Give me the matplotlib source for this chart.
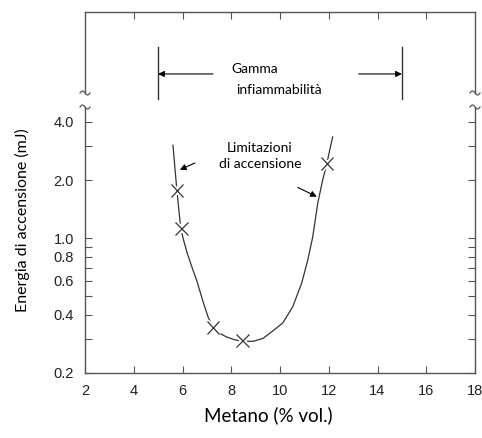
import numpy as np
import matplotlib
matplotlib.use('Agg')
import matplotlib.pyplot as plt
import matplotlib.patheffects as pe

# curve (methane %vol, ignition energy mJ)
curve_x = [5.61, 5.69, 5.77, 5.85, 5.93, 6.05, 6.2, 6.4, 6.59, 6.84, 7.05, 7.25,
           7.5, 7.82, 8.15, 8.48, 8.9, 9.3, 9.7, 10.11, 10.52, 10.89, 11.14,
           11.34, 11.55, 11.75, 11.92, 12.04, 12.16]
curve_y = [3.03, 2.3, 1.77, 1.4, 1.12, 0.97, 0.83, 0.7, 0.6, 0.47, 0.39, 0.346,
           0.322, 0.307, 0.297, 0.292, 0.292, 0.302, 0.33, 0.363, 0.44, 0.585,
           0.77, 1.01, 1.52, 2.0, 2.42, 2.86, 3.34]

# measured points (crosses)
pts_x = [5.77, 5.95, 7.25, 8.47, 11.93]
pts_y = [1.77, 1.12, 0.345, 0.295, 2.44]

xticks = [2, 4, 6, 8, 10, 12, 14, 16, 18]
ytick_vals = [0.2, 0.3, 0.4, 0.5, 0.6, 0.7, 0.8, 0.9, 1.0, 2.0, 3.0, 4.0]
ytick_labels = ['0.2', '', '0.4', '', '0.6', '', '0.8', '', '1.0', '2.0', '', '4.0']

flam_low = 5
flam_high = 15

spine_col = '#555555'
line_col = '#333333'
txt_font = ['Lato', 'DejaVu Sans']
tick_font = ['Liberation Sans', 'DejaVu Sans']

W, H = 482, 438
fig = plt.figure(figsize=(W / 100., H / 100.), dpi=100)

# pixel layout
x0, x1 = 85, 475
lo_bot, lo_top = 373, 107
up_bot, up_top = 93, 12

ax = fig.add_axes([x0 / W, 1 - lo_bot / H, (x1 - x0) / W, (lo_bot - lo_top) / H])
ax_up = fig.add_axes([x0 / W, 1 - up_bot / H, (x1 - x0) / W, (up_bot - up_top) / H])

# lower panel
ax.plot(curve_x, curve_y, color=line_col, lw=0.9)
ax.plot(pts_x, pts_y, linestyle='none', marker='x', markersize=9, mew=0.9,
        color=line_col,
        path_effects=[pe.withStroke(linewidth=3.5, foreground='white')])
ax.set_yscale('log')
ax.set_xlim(2, 18)
ax.set_ylim(0.2, 4.78)
ax.set_xticks(xticks)
ax.set_xticklabels([str(v) for v in xticks], fontfamily=tick_font, fontsize=10.5)
ax.set_yticks(ytick_vals)
ax.set_yticklabels(ytick_labels, fontfamily=tick_font, fontsize=10.5)
ax.minorticks_off()
ax.tick_params(direction='in', length=5, width=0.8, color=spine_col,
               right=True, labelcolor='#222222')
ax.tick_params(axis='x', pad=8)
ax.tick_params(axis='y', pad=8)
ax.spines['top'].set_visible(False)
for s in ['left', 'right', 'bottom']:
    ax.spines[s].set_color(spine_col)
    ax.spines[s].set_linewidth(1.0)
ax.set_xlabel('Metano (% vol.)', fontfamily=txt_font, fontsize=13.5)
ax.set_ylabel('Energia di accensione (mJ)', fontfamily=txt_font, fontsize=11.5)
ax.xaxis.set_label_coords(0.469, -0.125)
ax.yaxis.set_label_coords(-0.14, 0.575)

ax.text(9.17, 2.66, 'Limitazioni\ndi accensione', ha='center', va='center',
        fontfamily=txt_font, fontsize=10, linespacing=1.35)
arr = dict(arrowstyle='-|>', color='black', lw=0.8, mutation_scale=9,
           shrinkA=0, shrinkB=0)
ax.annotate('', xy=(5.89, 2.26), xytext=(6.51, 2.45), arrowprops=arr)
ax.annotate('', xy=(11.51, 1.64), xytext=(10.73, 1.83), arrowprops=arr)

# upper panel
ax_up.set_xlim(2, 18)
ax_up.set_ylim(0, 1)
ax_up.set_xticks(xticks[1:-1])
ax_up.set_yticks([])
ax_up.tick_params(axis='x', direction='in', length=5, width=0.8, color=spine_col,
                  bottom=False, top=True, labelbottom=False, labeltop=False)
ax_up.spines['bottom'].set_visible(False)
for s in ['left', 'right', 'top']:
    ax_up.spines[s].set_color(spine_col)
    ax_up.spines[s].set_linewidth(1.0)
ax_up.patch.set_alpha(0)

for xv in [flam_low, flam_high]:
    ax_up.plot([xv, xv], [-0.074, 0.568], color=line_col, lw=1.0, clip_on=False)
ax_up.annotate('', xy=(flam_low, 0.235), xytext=(7.25, 0.235), arrowprops=arr)
ax_up.annotate('', xy=(flam_high, 0.235), xytext=(13.23, 0.235), arrowprops=arr)
ax_up.text(8.95, 0.30, 'Gamma', ha='center', va='center', fontfamily=txt_font,
           fontsize=10)
ax_up.text(9.95, 0.04, 'infiammabilità', ha='center', va='center',
           fontfamily=txt_font, fontsize=10)

# axis break squiggles
def squiggle(px, py):
    t = np.linspace(-1, 1, 30)
    xs = (px + 5 * t) / W
    ys = 1 - (py + 2.0 * np.sin(np.pi * t)) / H
    fig.lines.append(matplotlib.lines.Line2D(xs, ys, transform=fig.transFigure,
                                             color=spine_col, lw=0.9))

for px in [x0, x1]:
    squiggle(px, up_bot)
    squiggle(px, lo_top)

fig.savefig('out.png', dpi=100)
plt.close()
